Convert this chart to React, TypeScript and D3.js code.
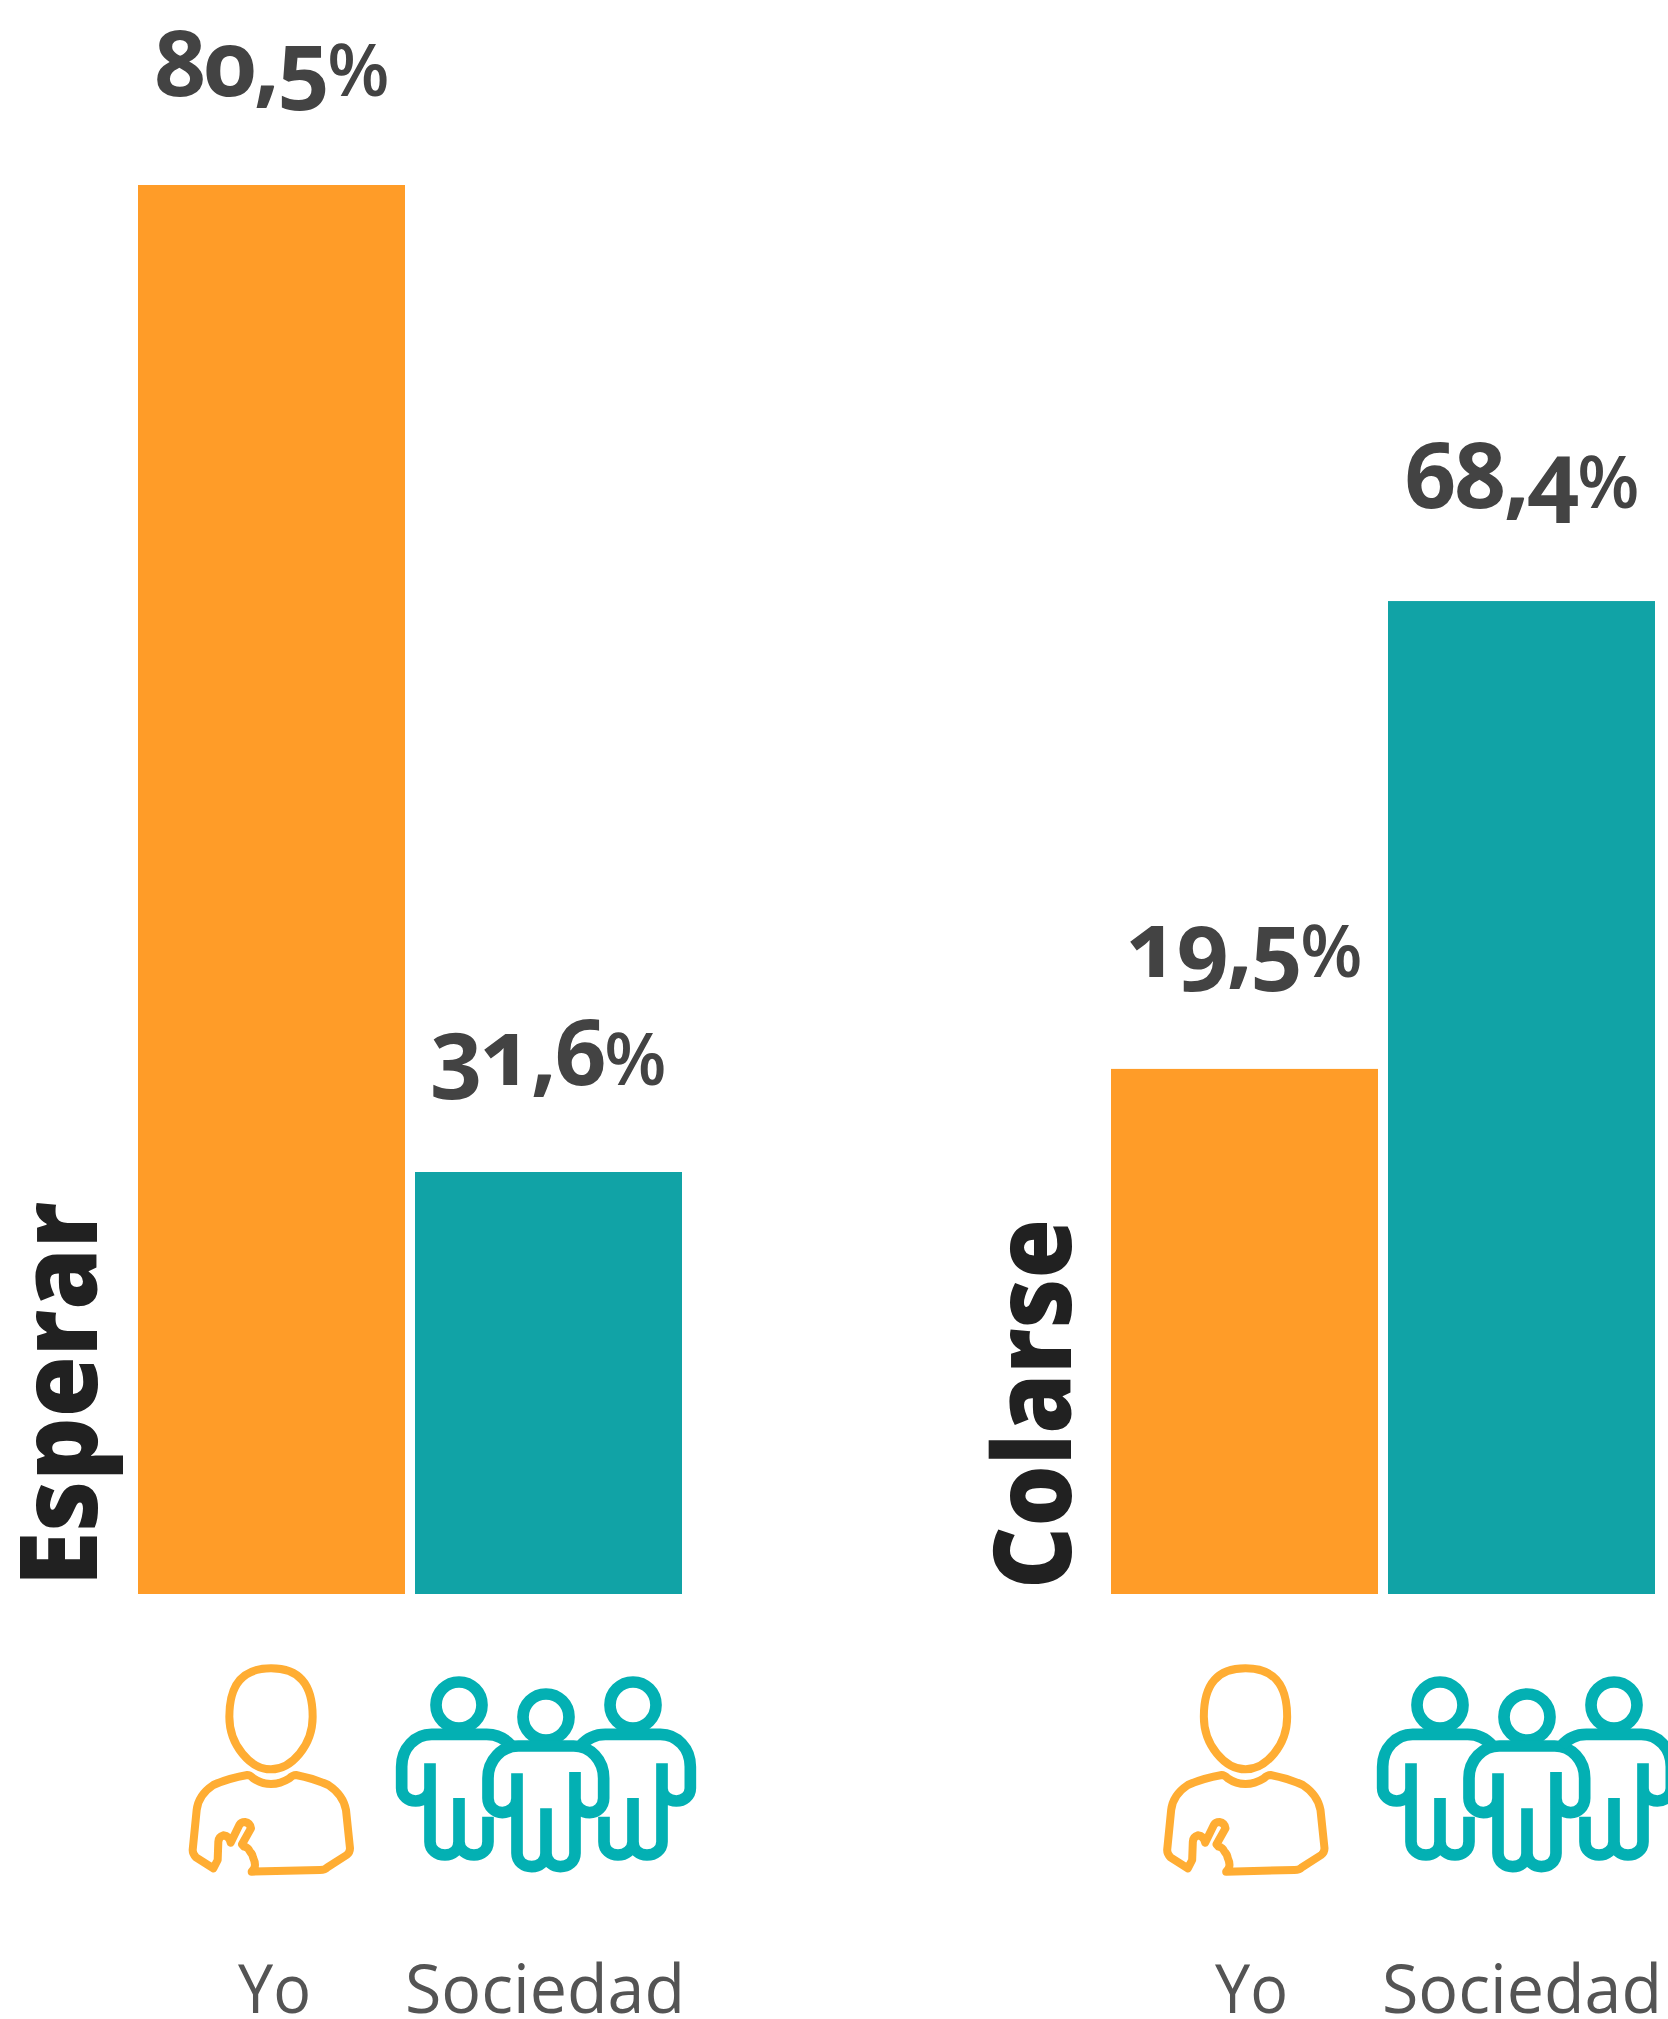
import React from "react";
import * as d3 from "d3";

const groupNames = ["Esperar", "Colarse"];
const seriesNames = ["Yo", "Sociedad"];
const valueLabels = [["80,5", "31,6"], ["19,5", "68,4"]];
// Bar lengths as drawn in the picture (they are not proportional to the printed labels)
const yoDrawn = [80.5, 30.0];
const sociedadDrawn = [24.11, 56.73];

const ORANGE = "#FF9C28", TEAL = "#11A3A6", ICON_ORANGE = "#FFAD33", ICON_TEAL = "#03B0B3";

const W = 1668, H = 2019;
const y = d3.scaleLinear().domain([0, 80.5]).range([1594, 185]);
const groupX = [138, 1111];
const x = d3.scaleBand().domain(seriesNames).range([0, 544]).paddingInner(0.0361).paddingOuter(0);

const PERSON_HEAD = "M303,55 C385,55 428,100 428,200 C428,285 365,358 303,358 C241,358 178,285 178,200 C178,100 221,55 303,55Z";
const PERSON_BODY = "M245,665 Q255,655 255,645 Q255,635 250,625 Q248,612 240,605 Q235,592 222,590 L216,583 L243,535 Q240,518 225,516 Q213,516 208,525 L182,578 Q178,558 160,556 Q146,560 145,575 L143,630 L130,655 L78,622 Q68,612 68,600 L80,480 Q85,435 130,405 Q175,385 232,375 Q240,375 250,385 Q275,402 303,402 Q331,402 358,385 Q368,375 378,375 Q430,385 475,405 Q520,435 528,480 L540,595 Q540,608 530,615 L472,652 Q465,660 450,660 L245,665 Z";
const FIG_L = "M150,310 L150,545 C150,570 172,585 195,585 C218,585 237,570 237,545 L237,414 M237,545 C237,570 260,585 282,585 C305,585 324,570 324,545 L324,470 M150,385 C150,408 130,423 107,423 C85,423 65,408 65,385 L65,320 C65,265 105,223 155,223 L320,223 C350,223 375,235 395,258";
const FIG_C = "M411,340 L411,580 C411,605 432,620 455,620 C478,620 498,605 498,580 L498,445 M498,580 C498,605 520,620 541,620 C564,620 585,605 585,580 L585,336 M411,415 C411,440 390,458 367,458 C345,458 324,440 324,415 L324,355 C324,300 365,258 415,258 L581,258 C631,258 671,300 671,355 L671,415 C671,440 651,458 629,458 C606,458 585,440 585,415";

function PersonIcon({ tx }: { tx: number }) {
  return (
    <g transform={`translate(${tx},1650) scale(${1 / 3}) translate(-303,0)`} fill="none" stroke={ICON_ORANGE} strokeWidth={24} strokeLinejoin="round" strokeLinecap="round">
      <path d={PERSON_HEAD} />
      <path d={PERSON_BODY} />
    </g>
  );
}

function GroupIcon({ tx }: { tx: number }) {
  return (
    <g transform={`translate(${tx},1660) scale(${1 / 3}) translate(-498,0)`} fill="none" stroke={ICON_TEAL} strokeWidth={35}>
      <ellipse cx={237} cy={135} rx={69} ry={69} />
      <path d={FIG_L} />
      <ellipse cx={498} cy={171} rx={69} ry={69} />
      <path d={FIG_C} />
      <g transform="translate(996,0) scale(-1,1)">
        <ellipse cx={237} cy={135} rx={69} ry={69} />
        <path d={FIG_L} />
      </g>
    </g>
  );
}

const labelBaselines = [[96, 1085], [977, 508]];
const titleX = [97, 1070.7], titleY = [1586, 1589], titleLen = [384, 370];
const iconPerson = [271, 1245.5], iconGroup = [546, 1527];
const textBoxes = [[[238, 73], [405, 280]], [[1215, 73], [1382, 280]]];

export default function App() {
  const series = [yoDrawn, sociedadDrawn];
  return (
    <svg width={W} height={H} style={{ position: "fixed", left: 0, top: 0, background: "#fff" }}>
      {groupNames.map((g, gi) => (
        <g key={g}>
          {seriesNames.map((s, si) => {
            const v = series[si][gi];
            const bx = groupX[gi] + (x(s) as number);
            return (
              <g key={s}>
                <rect x={bx} y={y(v)} width={x.bandwidth()} height={y(0) - y(v)} fill={si === 0 ? ORANGE : TEAL} />
                <text x={bx + x.bandwidth() / 2} y={labelBaselines[gi][si]} textAnchor="middle"
                  style={{ fontFamily: "'Open Sans'", fontWeight: 700, fontSize: 91, letterSpacing: -2.5, fill: "#434343", fontVariantNumeric: "oldstyle-nums", fontFeatureSettings: "'onum'" }}>
                  {valueLabels[gi][si]}
                  <tspan style={{ fontSize: 72, fontWeight: 600, letterSpacing: 0 }}>%</tspan>
                </text>
                <text x={textBoxes[gi][si][0]} y={2013} textLength={textBoxes[gi][si][1]} lengthAdjust="spacingAndGlyphs"
                  style={{ fontFamily: "'Open Sans'", fontWeight: 400, fontSize: 68, fill: "#545454" }}>{s}</text>
              </g>
            );
          })}
          <text transform={`translate(${titleX[gi]},${titleY[gi]}) rotate(-90)`} textLength={titleLen[gi]} lengthAdjust="spacingAndGlyphs"
            style={{ fontFamily: "'Open Sans'", fontWeight: 800, fontSize: 108, fill: "#212121" }}>{g}</text>
          <PersonIcon tx={iconPerson[gi]} />
          <GroupIcon tx={iconGroup[gi]} />
        </g>
      ))}
    </svg>
  );
}
